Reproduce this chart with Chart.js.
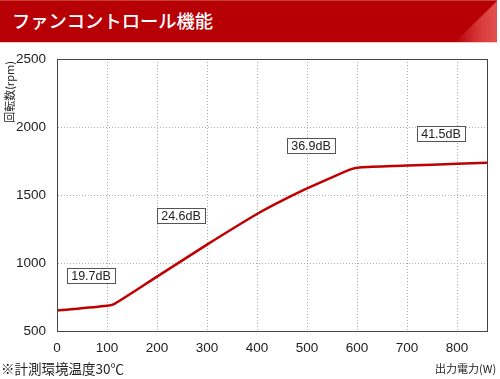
<!DOCTYPE html>
<html><head><meta charset="utf-8">
<script src="https://cdn.jsdelivr.net/npm/chart.js@4/dist/chart.umd.min.js"></script>
<style>
html,body{margin:0;padding:0;background:#fff;}
#wrap{position:relative;width:500px;height:379px;overflow:hidden;}
#hdr{position:absolute;left:0;top:0;width:497px;height:41px;background:#b60006;border-top:1px solid #c84030;
 font-family:"Noto Sans CJK JP",sans-serif;}
#hdr .t{position:absolute;left:12px;top:6px;color:#fff;font-size:18.3px;font-weight:500;line-height:26px;}
#hdr .g{position:absolute;right:0;top:0;width:42px;height:41px;
 background:linear-gradient(to right,#b60006 0%,#d83a3a 60%,#e45050 100%);
 clip-path:polygon(100% 0,100% 100%,0 100%);}
#hline{position:absolute;left:0;top:42px;width:497px;height:1px;background:#f5c8c0;}
canvas{position:absolute;left:0;top:0;}
.note{position:absolute;font-family:"Noto Sans CJK JP",sans-serif;color:#222;}
</style></head>
<body><div id="wrap">
<canvas id="c" width="500" height="379"></canvas>
<div id="hdr"><div class="t">ファンコントロール機能</div><div class="g"></div></div>
<div id="hline"></div>
<div class="note" style="left:1px;top:358px;font-size:13.5px;">※計測環境温度30℃</div>
<div class="note" style="left:435px;top:360px;font-size:11px;">出力電力(W)</div>
<div class="note" style="left:0px;top:60px;width:18px;height:64px;">
 <div style="position:absolute;left:9px;top:32px;transform:translate(-50%,-50%) rotate(-90deg);font-size:11px;white-space:nowrap;">回転数(rpm)</div>
</div>
</div>
<script>
const powerW = [0, 100, 115, 200, 300, 400, 450, 500, 550, 590, 605, 700, 800, 860];
const rpm    = [650, 685, 700, 900, 1135, 1360, 1458, 1548, 1630, 1692, 1703, 1716, 1730, 1738];
const noiseLabels = ['19.7dB', '24.6dB', '36.9dB', '41.5dB'];
const noiseX = [68, 248, 508, 768];
const noiseY = [908, 1346, 1864, 1949];
const yTicks = [500, 1000, 1500, 2000, 2500];
const xTicks = [0, 100, 200, 300, 400, 500, 600, 700, 800];

const frame = {
  id: 'frame',
  afterDraw(chart) {
    const {ctx, chartArea: a, scales} = chart;
    ctx.save();
    ctx.strokeStyle = '#444';
    ctx.lineWidth = 1;
    ctx.strokeRect(Math.round(a.left) + 0.5, Math.round(a.top) + 0.5, Math.round(a.right - a.left), Math.round(a.bottom - a.top));
    ctx.font = '12.5px "Liberation Sans", Arial, sans-serif';
    ctx.textAlign = 'center';
    ctx.textBaseline = 'middle';
    noiseLabels.forEach((t, i) => {
      const x = scales.x.getPixelForValue(noiseX[i]);
      const y = scales.y.getPixelForValue(noiseY[i]);
      const w = ctx.measureText(t).width + 8, h = 15;
      ctx.fillStyle = '#fff';
      ctx.fillRect(Math.round(x - w / 2) + 0.5, Math.round(y - h / 2) + 0.5, Math.round(w), h);
      ctx.strokeStyle = '#555';
      ctx.strokeRect(Math.round(x - w / 2) + 0.5, Math.round(y - h / 2) + 0.5, Math.round(w), h);
      ctx.fillStyle = '#222';
      ctx.fillText(t, x, y + 1);
    });
    ctx.restore();
  }
};

const tickFont = {family: '"Liberation Sans", Arial, sans-serif', size: 13.5};
new Chart(document.getElementById('c'), {
  type: 'line',
  data: {
    labels: powerW,
    datasets: [{
      data: powerW.map((x, i) => ({x, y: rpm[i]})),
      borderColor: '#c00000',
      borderWidth: 2.5,
      pointRadius: 0,
      tension: 0.25,
      fill: false
    }]
  },
  options: {
    responsive: false,
    animation: false,
    events: [],
    layout: {padding: {top: 59, right: 13, left: 0, bottom: 0}},
    plugins: {legend: {display: false}, tooltip: {enabled: false}, title: {display: false}},
    scales: {
      x: {
        type: 'linear', min: 0, max: 860,
        afterFit(s) { s.height = 48; },
        afterBuildTicks(s) { s.ticks = xTicks.map(v => ({value: v})); },
        ticks: {color: '#222', padding: 9, font: tickFont, callback: v => String(v)},
        grid: {color: '#aaa', lineWidth: 1, drawTicks: false, tickLength: 0},
        border: {display: true, color: '#444', dash: [1, 2]},
      },
      y: {
        type: 'linear', min: 500, max: 2500,
        afterFit(s) { s.width = 57; },
        afterBuildTicks(s) { s.ticks = yTicks.map(v => ({value: v})); },
        ticks: {color: '#222', padding: 11, font: tickFont, callback: v => String(v)},
        grid: {color: '#aaa', lineWidth: 1, drawTicks: false, tickLength: 0},
        border: {display: true, color: '#444', dash: [1, 2]},
      }
    }
  },
  plugins: [frame]
});
</script>
</body></html>
